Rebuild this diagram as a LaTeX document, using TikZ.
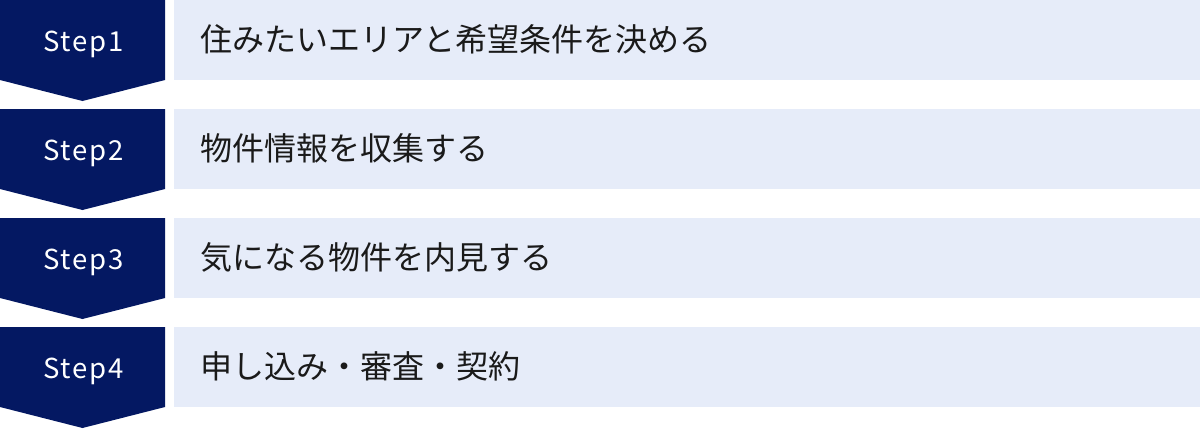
\documentclass[tikz,border=0pt]{standalone}
\usepackage{fontspec}
\setmainfont{Noto Sans CJK JP}
\newfontfamily\stepfont[LetterSpace=6]{Noto Sans CJK JP}
\definecolor{navy}{HTML}{041862}
\definecolor{pale}{HTML}{E6ECF9}
\definecolor{ink}{HTML}{1A1A1A}
\begin{document}
\begin{tikzpicture}[x=1pt,y=-1pt,
  stepshape/.style={fill=navy,draw=none},
  palebox/.style={fill=pale,draw=none},
  steplabel/.style={anchor=base,text=white,inner sep=0pt,font=\stepfont\fontsize{27.5}{28}\selectfont},
  desclabel/.style={anchor=base west,text=ink,inner sep=0pt,font=\fontsize{32}{32}\selectfont}]
\useasboundingbox (0,0) rectangle (1200,429);
\foreach \i/\txt in {1/住みたいエリアと希望条件を決める,2/物件情報を収集する,3/気になる物件を内見する,4/申し込み・審査・契約}{
  \pgfmathsetmacro{\t}{(\i-1)*109}
  \fill[stepshape] (0,\t) -- (165,\t) -- (165,\t+80) -- (82.5,\t+101) -- (0,\t+80) -- cycle;
  \fill[palebox] (174,\t) rectangle (1200,\t+80);
  \node[steplabel] (s\i) at (83.5,\t+51.5) {Step\i};
  \node[desclabel] (d\i) at (200,\t+51) {\txt};
}
\end{tikzpicture}
\end{document}
